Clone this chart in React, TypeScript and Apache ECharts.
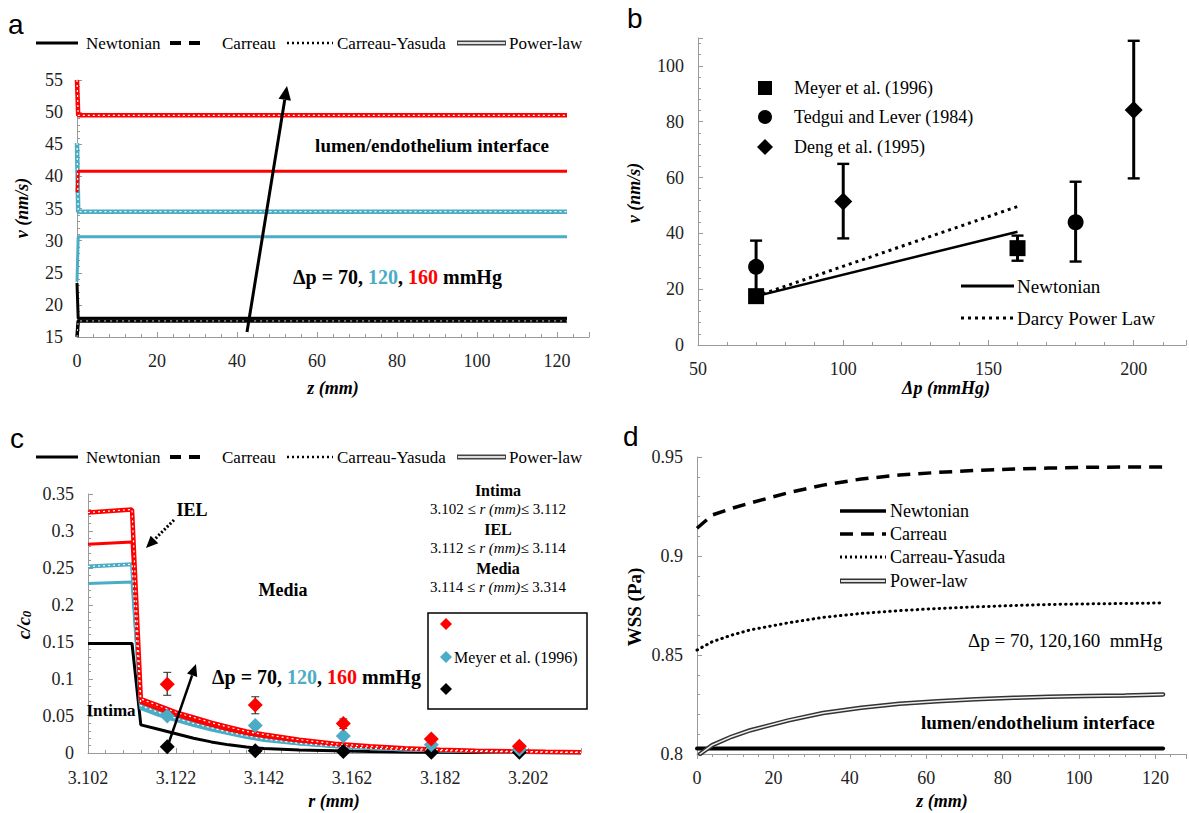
import React, { useEffect, useRef } from 'react';
import * as echarts from 'echarts';

const RED = '#ff0000';
const BLUE = '#4bacc6';
const FONT = 'Liberation Serif, Times New Roman, serif';
const SANS = 'Liberation Sans, Arial, sans-serif';
const AXIS = '#9a9a9a';

// ---------- panel a : v (nm/s) vs z (mm)
const aZ = [0, 0.3, 122.5];
const aRedNewtonian = [37.5, 40.8, 40.8];
const aRedNonNewtonian = [55, 49.5, 49.5];
const aBlueNewtonian = [23.6, 30.6, 30.6];
const aBlueNonNewtonian = [45.2, 34.5, 34.5];
const aBlackNewtonian = [23.4, 17.9, 17.9];
const aBlackNonNewtonian = [15, 17.5, 17.5];
const aXTicks = [0, 20, 40, 60, 80, 100, 120];
const aYTicks = [15, 20, 25, 30, 35, 40, 45, 50, 55];

// ---------- panel b : v (nm/s) vs Δp (mmHg)
const bPressure = [70, 160];
const bNewtonian = [17.5, 40.6];
const bDarcy = [17.5, 49.6];
const bMeyerX = [70, 160];
const bMeyerY = [17.5, 34.7];
const bMeyerLo = [17.5, 30.2];
const bMeyerHi = [17.5, 39.2];
const bTedguiX = [70, 180];
const bTedguiY = [28, 44];
const bTedguiLo = [18.6, 29.9];
const bTedguiHi = [37.4, 58.5];
const bDengX = [100, 200];
const bDengY = [51.4, 84.2];
const bDengLo = [38.2, 59.7];
const bDengHi = [64.9, 109];
const bXTicks = [50, 100, 150, 200];
const bYTicks = [0, 20, 40, 60, 80, 100];

// ---------- panel c : c/c0 vs r (mm)
const cR = [3.102, 3.112, 3.114, 3.118, 3.122, 3.126, 3.13, 3.134, 3.138, 3.142, 3.15, 3.158, 3.166, 3.174, 3.182, 3.19, 3.198, 3.206, 3.214];
const cBlackNewtonian = [0.148, 0.148, 0.038, 0.032, 0.026, 0.02, 0.015, 0.011, 0.008, 0.006, 0.004, 0.003, 0.002, 0.0015, 0.001, 0.0008, 0.0006, 0.0004, 0.0003];
const cBlueNewtonian = [0.229, 0.231, 0.06, 0.051, 0.044, 0.037, 0.031, 0.026, 0.021, 0.017, 0.012, 0.0085, 0.006, 0.0042, 0.003, 0.0021, 0.0015, 0.001, 0.0007];
const cBlueNonNewtonian = [0.252, 0.255, 0.064, 0.055, 0.047, 0.04, 0.034, 0.028, 0.023, 0.019, 0.013, 0.0093, 0.0066, 0.0046, 0.0033, 0.0023, 0.0016, 0.0011, 0.0008];
const cRedNewtonian = [0.282, 0.285, 0.068, 0.059, 0.051, 0.044, 0.037, 0.031, 0.026, 0.022, 0.016, 0.011, 0.008, 0.0057, 0.004, 0.0029, 0.002, 0.0014, 0.001];
const cRedNonNewtonian = [0.325, 0.329, 0.073, 0.064, 0.055, 0.048, 0.041, 0.035, 0.029, 0.025, 0.018, 0.0125, 0.009, 0.0064, 0.0045, 0.0032, 0.0023, 0.0016, 0.0011];
const cExpR = [3.12, 3.14, 3.16, 3.18, 3.2];
const cExpRed = [0.093, 0.065, 0.04, 0.019, 0.009];
const cExpRedLo = [0.078, 0.053, 0.033, 0.017, 0.008];
const cExpRedHi = [0.109, 0.076, 0.046, 0.021, 0.01];
const cExpBlue = [0.05, 0.037, 0.023, 0.011, 0.005];
const cExpBlack = [0.0085, 0.003, 0.002, 0.001, 0.001];
const cXTicks = [3.102, 3.122, 3.142, 3.162, 3.182, 3.202];
const cYTicks = [0, 0.05, 0.1, 0.15, 0.2, 0.25, 0.3, 0.35];

// ---------- panel d : WSS (Pa) vs z (mm)
const dZ = [0, 4, 9, 14, 24, 33, 43, 53, 63, 73, 83, 92, 102, 112, 122];
const dCarreau = [0.914, 0.9207, 0.924, 0.9268, 0.932, 0.9358, 0.9389, 0.9409, 0.9422, 0.9432, 0.9439, 0.9444, 0.9448, 0.9449, 0.945];
const dCarreauYasuda = [0.8525, 0.8567, 0.86, 0.8627, 0.8663, 0.869, 0.871, 0.8724, 0.8735, 0.8743, 0.875, 0.8755, 0.8758, 0.876, 0.8763];
const dPowerLawZ = [0.8, 4, 9, 14, 24, 33, 43, 53, 63, 73, 83, 92, 102, 112, 122];
const dPowerLaw = [0.8, 0.8045, 0.8087, 0.812, 0.817, 0.8207, 0.8234, 0.8254, 0.8267, 0.8277, 0.8284, 0.8289, 0.8293, 0.8296, 0.8301];
const dNewtonianZ = [0, 122];
const dNewtonian = [0.8028, 0.8028];
const dXTicks = [0, 20, 40, 60, 80, 100, 120];
const dYTicks = [0.8, 0.85, 0.9, 0.95];

const pairs = (xs: number[], ys: number[]) => xs.map((x, i) => [x, ys[i]]);
const fmt = (ticks: number[]) => (v: number) => {
  const t = ticks.find((k) => Math.abs(k - v) < 1e-6);
  return t === undefined ? '' : String(t);
};

const line = (idx: number, xs: number[], ys: number[], color: string, width: number, type: any = 'solid', cap: any = 'butt', z = 2) => ({
  type: 'line', xAxisIndex: idx, yAxisIndex: idx, data: pairs(xs, ys), symbol: 'none', silent: true, z,
  lineStyle: { color, width, type, cap }, emphasis: { disabled: true },
});

const scatter = (idx: number, xs: number[], ys: number[], symbol: string, size: number, color: string, z = 5) => ({
  type: 'scatter', xAxisIndex: idx, yAxisIndex: idx, data: pairs(xs, ys), symbol, symbolSize: size, silent: true, z,
  itemStyle: { color, opacity: 1 },
});

const errorBars = (idx: number, xs: number[], lo: number[], hi: number[], color: string, lw: number, cap: number) => ({
  type: 'custom', xAxisIndex: idx, yAxisIndex: idx, silent: true, z: 4,
  data: xs.map((x, i) => [x, lo[i], hi[i]]),
  encode: { x: 0, y: [1, 2] },
  renderItem: (_p: any, api: any) => {
    const x = api.value(0);
    const pl = api.coord([x, api.value(1)]);
    const ph = api.coord([x, api.value(2)]);
    return {
      type: 'group',
      children: [
        { type: 'line', shape: { x1: pl[0], y1: pl[1], x2: ph[0], y2: ph[1] }, style: { stroke: color, lineWidth: lw } },
        { type: 'line', shape: { x1: pl[0] - cap, y1: pl[1], x2: pl[0] + cap, y2: pl[1] }, style: { stroke: color, lineWidth: lw * 0.8 } },
        { type: 'line', shape: { x1: ph[0] - cap, y1: ph[1], x2: ph[0] + cap, y2: ph[1] }, style: { stroke: color, lineWidth: lw * 0.8 } },
      ],
    };
  },
});

const axis = (idx: number, min: number, max: number, interval: number, ticks: number[], inside = true, margin = 14) => ({
  type: 'value', gridIndex: idx, min, max, interval,
  axisLine: { show: true, onZero: false, lineStyle: { color: AXIS, width: 1 } },
  axisTick: { show: true, inside, length: 5, lineStyle: { color: AXIS } },
  minorTick: { show: true, splitNumber: 5, length: 3, lineStyle: { color: AXIS } },
  splitLine: { show: false },
  axisLabel: { color: '#222', fontFamily: FONT, fontSize: 18, margin, formatter: fmt(ticks), showMaxLabel: true },
});

const txt = (x: number, y: number, text: string, size: number, o: any = {}) => ({
  type: 'text', x, y, z: 100, silent: true, rotation: o.rot || 0,
  style: {
    text,
    fontFamily: o.family || FONT,
    fontSize: size,
    fontWeight: o.bold ? 'bold' : 'normal',
    fontStyle: o.italic ? 'italic' : 'normal',
    fill: o.color || '#000', align: o.align || 'center', verticalAlign: 'middle', rich: o.rich,
  },
});

const seg = (x1: number, y1: number, x2: number, y2: number, stroke: string, lw: number, dash?: number[], cap = 'butt') => ({
  type: 'line', z: 100, silent: true, shape: { x1, y1, x2, y2 }, style: { stroke, lineWidth: lw, lineDash: dash, lineCap: cap },
});

const arrow = (x0: number, y0: number, x1: number, y1: number, w: number, head: number, dash?: number[]) => {
  const dx = x1 - x0, dy = y1 - y0, L = Math.hypot(dx, dy), ux = dx / L, uy = dy / L;
  const bx = x1 - ux * head, by = y1 - uy * head, px = -uy, py = ux, hw = head * 0.45;
  return [
    seg(x0, y0, bx, by, '#000', w, dash),
    { type: 'polygon', z: 100, silent: true, shape: { points: [[x1, y1], [bx + px * hw, by + py * hw], [bx - px * hw, by - py * hw]] }, style: { fill: '#000' } },
  ];
};

const diamond = (cx: number, cy: number, r: number, fill: string) => ({
  type: 'polygon', z: 100, silent: true, shape: { points: [[cx, cy - r], [cx + r, cy], [cx, cy + r], [cx - r, cy]] }, style: { fill },
});

const topLegend = (y: number) => [
  seg(36, y, 78, y, '#000', 3),
  txt(86, y, 'Newtonian', 17, { align: 'left' }),
  seg(170, y, 181, y, '#000', 4),
  seg(189, y, 200, y, '#000', 4),
  txt(222, y, 'Carreau', 17, { align: 'left' }),
  seg(287, y, 333, y, '#000', 2.5, [2, 3]),
  txt(337, y, 'Carreau-Yasuda', 17, { align: 'left' }),
  seg(457, y, 506, y, '#444', 5),
  seg(458, y, 505, y, '#dddddd', 1.8),
  txt(509, y, 'Power-law', 17, { align: 'left' }),
];

const dpRich = (size: number) => {
  const base = { fontFamily: FONT, fontWeight: 'bold', fontSize: size };
  return { k: { ...base, fill: '#000' }, b: { ...base, fill: BLUE }, r: { ...base, fill: RED } };
};
const DP_TEXT = '{k|Δp = 70, }{b|120}{k|, }{r|160}{k| mmHg}';

const rangeRich = {
  n: { fontFamily: FONT, fontSize: 15, fill: '#000' },
  i: { fontFamily: FONT, fontSize: 15, fontStyle: 'italic', fill: '#000' },
};

export default function App() {
  const ref = useRef<HTMLDivElement>(null);
  useEffect(() => {
    if (!ref.current) return;
    const chart = echarts.init(ref.current, undefined, { renderer: 'svg' });
    const graphic: any[] = [
      // panel letters
      txt(8, 24, 'a', 28, { family: SANS, align: 'left' }),
      txt(627, 18, 'b', 28, { family: SANS, align: 'left' }),
      txt(10, 438, 'c', 28, { family: SANS, align: 'left' }),
      txt(623, 436, 'd', 28, { family: SANS, align: 'left' }),
      // panel a
      ...topLegend(43),
      txt(22, 208, 'v (nm/s)', 18, { bold: true, italic: true, rot: Math.PI / 2 }),
      txt(333, 388, 'z (mm)', 18, { bold: true, italic: true }),
      txt(432, 145, 'lumen/endothelium interface', 19, { bold: true }),
      txt(293, 277, DP_TEXT, 20, { align: 'left', rich: dpRich(20) }),
      ...arrow(247, 332, 287, 86, 3, 14),
      // panel b
      txt(634, 193, 'v (nm/s)', 18, { bold: true, italic: true, rot: Math.PI / 2 }),
      txt(946, 388, 'Δp (mmHg)', 18, { bold: true, italic: true }),
      { type: 'rect', z: 100, silent: true, shape: { x: 758, y: 81, width: 14, height: 14 }, style: { fill: '#000' } },
      { type: 'circle', z: 100, silent: true, shape: { cx: 765, cy: 117, r: 7 }, style: { fill: '#000' } },
      diamond(765, 147, 8, '#000'),
      txt(794, 88, 'Meyer et al. (1996)', 18, { align: 'left' }),
      txt(794, 117, 'Tedgui and Lever (1984)', 18, { align: 'left' }),
      txt(794, 147, 'Deng et al. (1995)', 18, { align: 'left' }),
      seg(961, 286, 1014, 286, '#000', 3),
      seg(961, 318, 1014, 318, '#000', 3, [3, 4]),
      txt(1017, 286, 'Newtonian', 19, { align: 'left' }),
      txt(1017, 318, 'Darcy Power Law', 19, { align: 'left' }),
      // panel c
      ...topLegend(457),
      txt(23, 625, '{a|c/c}{s|0}', 18, {
        rot: Math.PI / 2,
        rich: {
          a: { fontFamily: FONT, fontSize: 19, fontWeight: 'bold', fontStyle: 'italic', fill: '#000' },
          s: { fontFamily: FONT, fontSize: 13, fontWeight: 'bold', fontStyle: 'italic', fill: '#000', padding: [6, 0, 0, 0] },
        },
      }),
      txt(334, 801, 'r (mm)', 18, { bold: true, italic: true }),
      txt(192, 510, 'IEL', 18, { bold: true }),
      ...arrow(174, 520, 146, 548, 3, 12, [2, 2]),
      txt(283, 590, 'Media', 18, { bold: true }),
      txt(111, 710, 'Intima', 17, { bold: true }),
      txt(212, 677, DP_TEXT, 20, { align: 'left', rich: dpRich(20) }),
      ...arrow(167, 748, 196, 664, 2.5, 12),
      txt(498, 490, 'Intima', 16, { bold: true }),
      txt(498, 509, '{n|3.102 ≤ }{i|r (mm)}{n|≤ 3.112}', 15, { rich: rangeRich }),
      txt(498, 529, 'IEL', 16, { bold: true }),
      txt(498, 548, '{n|3.112 ≤ }{i|r (mm)}{n|≤ 3.114}', 15, { rich: rangeRich }),
      txt(498, 568, 'Media', 16, { bold: true }),
      txt(498, 587, '{n|3.114 ≤ }{i|r (mm)}{n|≤ 3.314}', 15, { rich: rangeRich }),
      { type: 'rect', z: 99, silent: true, shape: { x: 428, y: 613, width: 159, height: 96 }, style: { fill: '#fff', stroke: '#000', lineWidth: 1.5 } },
      diamond(446, 624, 6, RED),
      diamond(446, 657, 6, BLUE),
      diamond(446, 689, 6, '#000'),
      txt(454, 657, 'Meyer et al. (1996)', 16, { align: 'left' }),
      // panel d
      txt(634, 607, 'WSS (Pa)', 19, { bold: true, rot: Math.PI / 2 }),
      txt(942, 801, 'z (mm)', 18, { bold: true, italic: true }),
      seg(840, 511, 886, 511, '#000', 3.5),
      seg(840, 534, 886, 534, '#000', 3.5, [13, 8]),
      seg(840, 557, 886, 557, '#000', 3, [2, 3]),
      seg(840, 581, 886, 581, '#333', 5),
      seg(841, 581, 885, 581, '#e0e0e0', 1.8),
      txt(890, 511, 'Newtonian', 18, { align: 'left' }),
      txt(890, 534, 'Carreau', 18, { align: 'left' }),
      txt(890, 557, 'Carreau-Yasuda', 18, { align: 'left' }),
      txt(890, 581, 'Power-law', 18, { align: 'left' }),
      txt(968, 640, 'Δp = 70, 120,160  mmHg', 19, { align: 'left' }),
      txt(921, 722, 'lumen/endothelium interface', 19, { align: 'left', bold: true }),
    ];

    const option: any = {
      animation: false,
      backgroundColor: '#fff',
      textStyle: { fontFamily: FONT },
      grid: [
        { left: 77, top: 80, width: 512, height: 257 },
        { left: 698, top: 38, width: 489, height: 307 },
        { left: 88, top: 494, width: 493, height: 259 },
        { left: 697, top: 457, width: 490, height: 297 },
      ],
      xAxis: [
        axis(0, 0, 128, 20, aXTicks, true, 15),
        axis(1, 50, 218, 50, bXTicks, true, 15),
        axis(2, 3.102, 3.214, 0.02, cXTicks, true, 16),
        axis(3, 0, 128, 20, dXTicks, false, 15),
      ],
      yAxis: [
        axis(0, 15, 55, 5, aYTicks),
        axis(1, 0, 110, 20, bYTicks),
        axis(2, 0, 0.35, 0.05, cYTicks),
        axis(3, 0.8, 0.95, 0.05, dYTicks),
      ],
      series: [
        // a
        line(0, aZ, aBlackNonNewtonian, '#000', 3.5),
        line(0, aZ, aBlackNonNewtonian, '#d0d0d0', 1, [2, 4], 'butt', 3),
        line(0, aZ, aBlackNewtonian, '#000', 3),
        line(0, aZ, aBlueNewtonian, BLUE, 3),
        line(0, aZ, aBlueNonNewtonian, BLUE, 4.5),
        line(0, aZ, aBlueNonNewtonian, '#ffffff', 1.2, [2, 3], 'butt', 3),
        line(0, aZ, aRedNewtonian, RED, 3),
        line(0, aZ, aRedNonNewtonian, RED, 4.5),
        line(0, aZ, aRedNonNewtonian, '#ffffff', 1.2, [2, 3], 'butt', 3),
        // b
        line(1, bPressure, bNewtonian, '#000', 2.5),
        line(1, bPressure, bDarcy, '#000', 3, [3, 4]),
        errorBars(1, bTedguiX, bTedguiLo, bTedguiHi, '#000', 3, 6),
        errorBars(1, bDengX, bDengLo, bDengHi, '#000', 3, 6),
        errorBars(1, bMeyerX, bMeyerLo, bMeyerHi, '#000', 3, 6),
        scatter(1, bTedguiX, bTedguiY, 'circle', 16, '#000'),
        scatter(1, bDengX, bDengY, 'diamond', 18, '#000'),
        scatter(1, bMeyerX, bMeyerY, 'rect', 16, '#000', 6),
        // c
        line(2, cR, cBlackNewtonian, '#000', 3),
        line(2, cR, cBlueNewtonian, BLUE, 3),
        line(2, cR, cBlueNonNewtonian, BLUE, 4),
        line(2, cR, cBlueNonNewtonian, '#ffffff', 1.2, [2, 3], 'butt', 3),
        line(2, cR, cRedNewtonian, RED, 3),
        line(2, cR, cRedNonNewtonian, RED, 4.5),
        line(2, cR, cRedNonNewtonian, '#ffffff', 1.2, [2, 3], 'butt', 3),
        errorBars(2, cExpR.slice(0, 3), cExpRedLo.slice(0, 3), cExpRedHi.slice(0, 3), '#333', 1.3, 4),
        scatter(2, cExpR, cExpBlack, 'diamond', 15, '#000'),
        scatter(2, cExpR, cExpBlue, 'diamond', 15, BLUE),
        scatter(2, cExpR, cExpRed, 'diamond', 15, RED),
        // d
        line(3, dNewtonianZ, dNewtonian, '#000', 4, 'solid', 'round'),
        line(3, dZ, dCarreau, '#000', 3.5, [13, 8]),
        line(3, dZ, dCarreauYasuda, '#000', 3, [0.5, 5], 'round'),
        line(3, dPowerLawZ, dPowerLaw, '#333', 4.5, 'solid', 'round'),
        line(3, dPowerLawZ, dPowerLaw, '#eeeeee', 1.5, 'solid', 'round', 3),
      ],
      graphic,
    };
    chart.setOption(option);
    return () => chart.dispose();
  }, []);
  return <div ref={ref} style={{ position: 'fixed', left: 0, top: 0, width: 1189, height: 813, background: '#fff' }} />;
}
